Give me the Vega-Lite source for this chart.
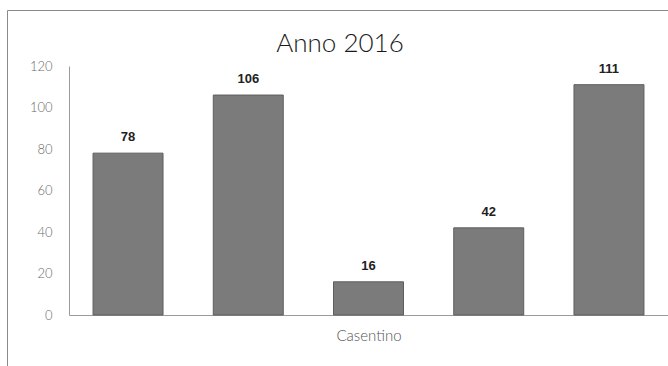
{
  "$schema": "https://vega.github.io/schema/vega-lite/v6.json",
  "autosize": "none",
  "padding": {"left": 7, "top": 10, "right": 0, "bottom": 0},
  "width": 680,
  "height": 380,
  "background": "white",
  "config": {
    "view": {"stroke": "#8a8a8a", "strokeWidth": 1},
    "font": "Lato"
  },
  "title": {
    "text": "Anno 2016",
    "fontSize": 26,
    "font": "Lato",
    "fontWeight": 300,
    "color": "#1a1a1a",
    "anchor": "middle",
    "dx": -7,
    "offset": -47
  },
  "data": {
    "values": [
      {"serie": "1", "valore": 78},
      {"serie": "2", "valore": 106},
      {"serie": "3", "valore": 16},
      {"serie": "4", "valore": 42},
      {"serie": "5", "valore": 111}
    ]
  },
  "encoding": {
    "x": {
      "field": "serie",
      "type": "nominal",
      "scale": {"type": "band", "range": [62, 661], "paddingInner": 0.418, "paddingOuter": 0.2},
      "axis": {
        "title": "Casentino",
        "labels": false,
        "ticks": false,
        "offset": -75,
        "domainColor": "#9a9a9a",
        "titleFont": "Lato",
        "titleFontWeight": 300,
        "titleFontSize": 15,
        "titleColor": "#555",
        "titlePadding": 13
      }
    },
    "y": {
      "field": "valore",
      "type": "quantitative",
      "scale": {"domain": [0, 120], "range": [305, 56], "nice": false},
      "axis": {
        "title": null,
        "values": [0, 20, 40, 60, 80, 100, 120],
        "grid": false,
        "ticks": false,
        "offset": -62,
        "domainColor": "#9a9a9a",
        "labelPadding": 17,
        "labelFont": "Lato",
        "labelFontWeight": 300,
        "labelFontSize": 13,
        "labelColor": "#6a6a6a"
      }
    }
  },
  "layer": [
    {
      "mark": {"type": "bar", "fill": "#7b7b7b", "stroke": "#5e5e5e", "strokeWidth": 1}
    },
    {
      "mark": {"type": "text", "baseline": "bottom", "dy": -9, "font": "Liberation Sans", "fontWeight": "bold", "fontSize": 13, "color": "#222"},
      "encoding": {"text": {"field": "valore", "type": "quantitative"}}
    }
  ]
}
